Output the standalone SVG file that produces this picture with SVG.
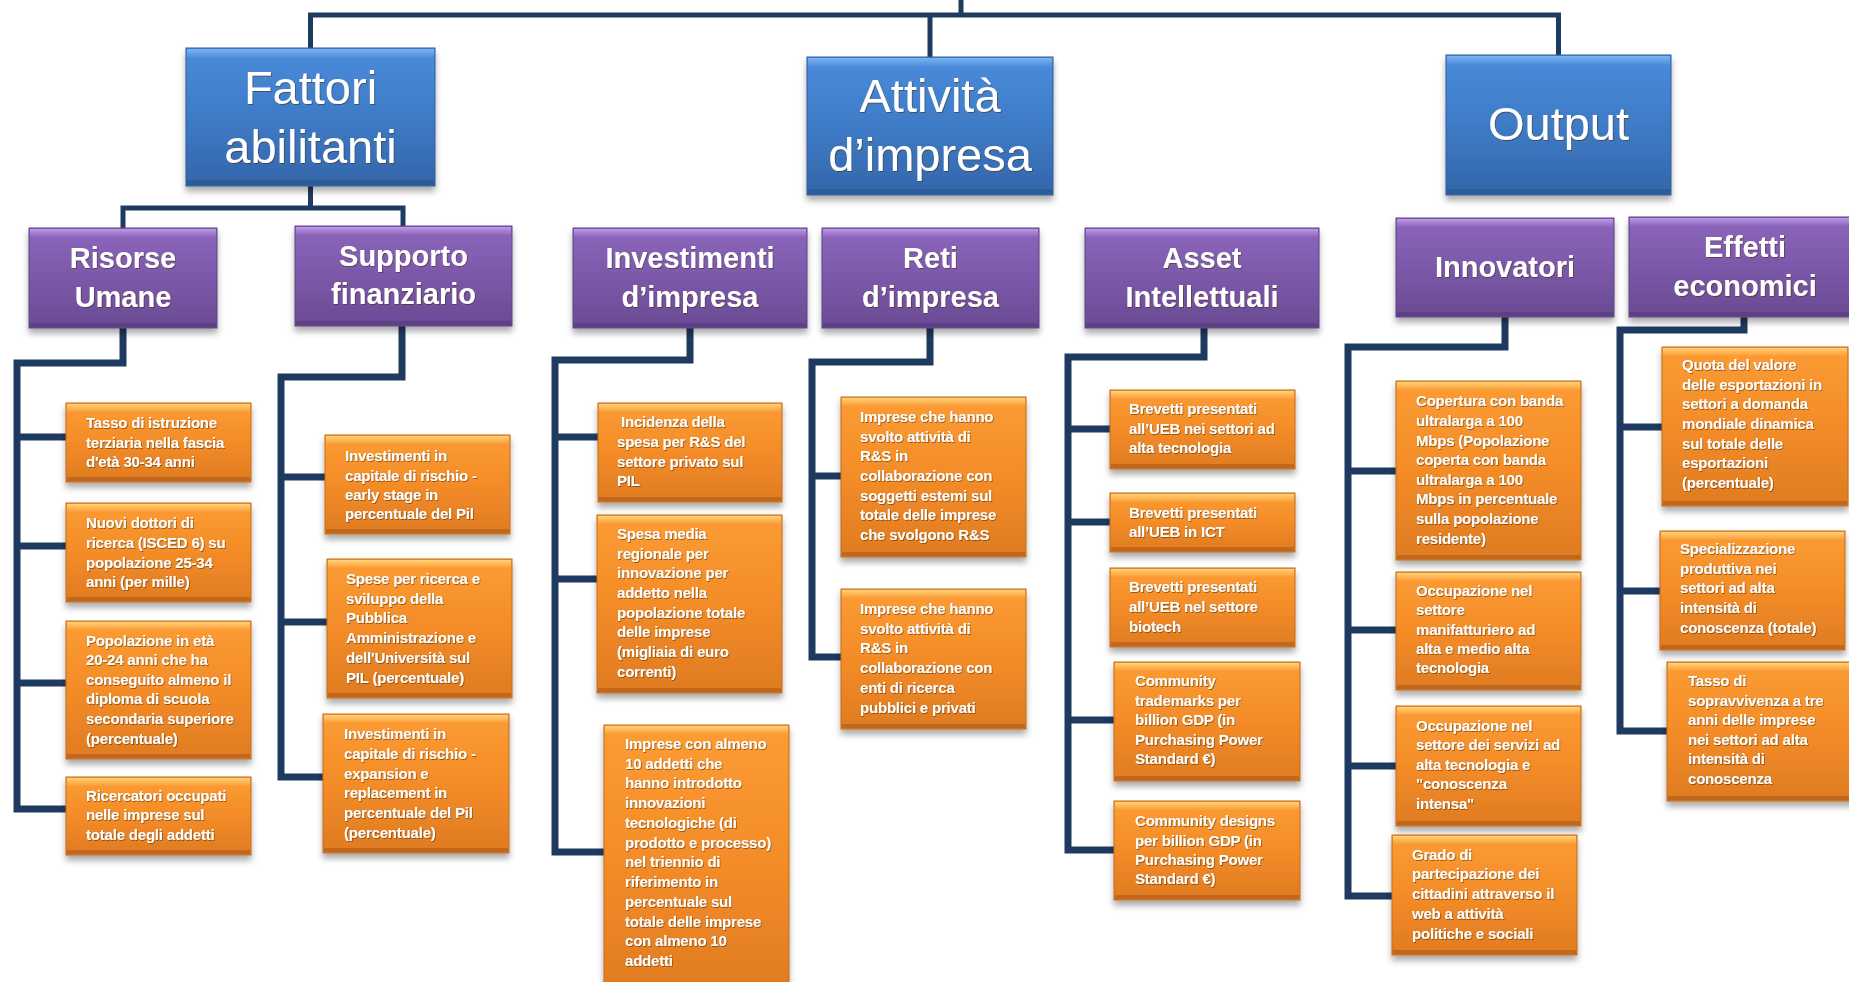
<svg xmlns="http://www.w3.org/2000/svg" width="1849" height="982" viewBox="0 0 1849 982">
<defs>
<style>
.c1{fill:none;stroke:#1F3A60;stroke-width:5;stroke-linejoin:miter}
.c2{fill:none;stroke:#1F3A60;stroke-width:7;stroke-linejoin:miter}
.bb{fill:url(#bg);stroke:#2E5E9B;stroke-width:1;filter:url(#sh)}
.bbt{fill:url(#bgt)}
.bbb{fill:#2C5A92;opacity:.8}
.pb{fill:url(#pg);stroke:#5E4285;stroke-width:1;filter:url(#sh)}
.pbt{fill:url(#pgt)}
.pbb{fill:#5B3F80;opacity:.8}
.ob{fill:url(#og);stroke:#C46A1C;stroke-width:1;filter:url(#sh)}
.obt{fill:url(#ogt)}
.obb{fill:#B9641D;opacity:.85}
text{fill:#FFFFFF;font-family:"Liberation Sans",Arial,sans-serif}
.t1{font-size:47px;text-anchor:middle;filter:url(#ts)}
.t2{font-size:29px;font-weight:bold;text-anchor:middle;filter:url(#ts)}
.t3{font-size:15px;font-weight:bold;letter-spacing:-0.2px;filter:url(#ts)}
</style>
<filter id="sh" x="-10%" y="-10%" width="120%" height="130%">
<feDropShadow dx="0" dy="5" stdDeviation="3" flood-color="#000" flood-opacity="0.33"/>
</filter>
<filter id="ts" x="-5%" y="-20%" width="110%" height="150%">
<feDropShadow dx="0.8" dy="1" stdDeviation="0.7" flood-color="#4a2500" flood-opacity="0.55"/>
</filter>
<linearGradient id="bg" x1="0" y1="0" x2="0" y2="1"><stop offset="0" stop-color="#4A8CDB"/><stop offset="0.5" stop-color="#3E7BC6"/><stop offset="1" stop-color="#3466AA"/></linearGradient>
<linearGradient id="bgt" x1="0" y1="0" x2="0" y2="1"><stop offset="0" stop-color="#7DB2F0"/><stop offset="1" stop-color="#4A8CDB"/></linearGradient>
<linearGradient id="pg" x1="0" y1="0" x2="0" y2="1"><stop offset="0" stop-color="#8C67BC"/><stop offset="0.5" stop-color="#7B58A9"/><stop offset="1" stop-color="#6A4B93"/></linearGradient>
<linearGradient id="pgt" x1="0" y1="0" x2="0" y2="1"><stop offset="0" stop-color="#BC98E6"/><stop offset="1" stop-color="#8C67BC"/></linearGradient>
<linearGradient id="og" x1="0" y1="0" x2="0" y2="1"><stop offset="0" stop-color="#FC9C34"/><stop offset="0.5" stop-color="#F38C28"/><stop offset="1" stop-color="#DF7B22"/></linearGradient>
<linearGradient id="ogt" x1="0" y1="0" x2="0" y2="1"><stop offset="0" stop-color="#FFD27A"/><stop offset="1" stop-color="#FC9C34"/></linearGradient>
</defs>
<rect width="1849" height="982" fill="#FFFFFF"/>

<g id="connectors">
<path class="c1" d="M310.5 48V15H1558.5V55M961 0V15M930 15V57"/>
<path class="c1" d="M310.5 186V208M123 228V208H403V226"/>
<path class="c2" d="M123 328V363H17V809H66M17 437H66M17 546H66M17 683H66"/>
<path class="c2" d="M402 326V377H281V777H323M281 477H325M281 622H327"/>
<path class="c2" d="M690 328V360H555V852H604M555 437H598M555 579H597"/>
<path class="c2" d="M930 328V362H812V657H841M812 476H841"/>
<path class="c2" d="M1204 328V357H1068V850H1114M1068 429H1110M1068 522H1110M1068 720H1114"/>
<path class="c2" d="M1505 317V347H1348V896H1392M1348 471H1396M1348 630H1396M1348 766H1396"/>
<path class="c2" d="M1744 317V330H1620V731H1667M1620 427H1662M1620 591H1660"/>
</g>

<g id="n_fattori">
<rect class="bb" x="186" y="48" width="249" height="138"/><rect class="bbt" x="187" y="49" width="247" height="9"/><rect class="bbb" x="187" y="180" width="247" height="5"/>
<text class="t1"><tspan x="310.5" y="104">Fattori</tspan><tspan x="310.5" y="163">abilitanti</tspan></text>
</g>
<g id="n_attivita">
<rect class="bb" x="807" y="57" width="246" height="138"/><rect class="bbt" x="808" y="58" width="244" height="9"/><rect class="bbb" x="808" y="189" width="244" height="5"/>
<text class="t1"><tspan x="930" y="112">Attività</tspan><tspan x="930" y="171">d’impresa</tspan></text>
</g>
<g id="n_output">
<rect class="bb" x="1446" y="55" width="225" height="140"/><rect class="bbt" x="1447" y="56" width="223" height="9"/><rect class="bbb" x="1447" y="189" width="223" height="5"/>
<text class="t1"><tspan x="1558.5" y="140">Output</tspan></text>
</g>

<g id="n_risorse">
<rect class="pb" x="29" y="228" width="188" height="100"/><rect class="pbt" x="30" y="229" width="186" height="8"/><rect class="pbb" x="30" y="323" width="186" height="4"/>
<text class="t2"><tspan x="123" y="268">Risorse</tspan><tspan x="123" y="307">Umane</tspan></text>
</g>
<g id="n_supporto">
<rect class="pb" x="295" y="226" width="217" height="100"/><rect class="pbt" x="296" y="227" width="215" height="8"/><rect class="pbb" x="296" y="321" width="215" height="4"/>
<text class="t2"><tspan x="403.5" y="266">Supporto</tspan><tspan x="403.5" y="304">finanziario</tspan></text>
</g>
<g id="n_investimenti">
<rect class="pb" x="573" y="228" width="234" height="100"/><rect class="pbt" x="574" y="229" width="232" height="8"/><rect class="pbb" x="574" y="323" width="232" height="4"/>
<text class="t2"><tspan x="690" y="268">Investimenti</tspan><tspan x="690" y="307">d’impresa</tspan></text>
</g>
<g id="n_reti">
<rect class="pb" x="822" y="228" width="217" height="100"/><rect class="pbt" x="823" y="229" width="215" height="8"/><rect class="pbb" x="823" y="323" width="215" height="4"/>
<text class="t2"><tspan x="930.5" y="268">Reti</tspan><tspan x="930.5" y="307">d’impresa</tspan></text>
</g>
<g id="n_asset">
<rect class="pb" x="1085" y="228" width="234" height="100"/><rect class="pbt" x="1086" y="229" width="232" height="8"/><rect class="pbb" x="1086" y="323" width="232" height="4"/>
<text class="t2"><tspan x="1202" y="268">Asset</tspan><tspan x="1202" y="307">Intellettuali</tspan></text>
</g>
<g id="n_innovatori">
<rect class="pb" x="1396" y="218" width="218" height="99"/><rect class="pbt" x="1397" y="219" width="216" height="8"/><rect class="pbb" x="1397" y="312" width="216" height="4"/>
<text class="t2"><tspan x="1505" y="277">Innovatori</tspan></text>
</g>
<g id="n_effetti">
<rect class="pb" x="1629" y="217" width="232" height="100"/><rect class="pbt" x="1630" y="218" width="230" height="8"/><rect class="pbb" x="1630" y="312" width="230" height="4"/>
<text class="t2"><tspan x="1745" y="257">Effetti</tspan><tspan x="1745" y="296">economici</tspan></text>
</g>

<g id="o1">
<rect class="ob" x="66" y="403" width="185" height="79"/><rect class="obt" x="67" y="404" width="183" height="8"/><rect class="obb" x="67" y="477" width="183" height="4"/>
<text class="t3"><tspan x="86" y="428">Tasso di istruzione</tspan><tspan x="86" y="448">terziaria nella fascia</tspan><tspan x="86" y="467">d'età 30-34 anni</tspan></text>
</g>
<g id="o2">
<rect class="ob" x="66" y="503" width="185" height="99"/><rect class="obt" x="67" y="504" width="183" height="8"/><rect class="obb" x="67" y="597" width="183" height="4"/>
<text class="t3"><tspan x="86" y="528">Nuovi dottori di</tspan><tspan x="86" y="548">ricerca (ISCED 6) su</tspan><tspan x="86" y="568">popolazione 25-34</tspan><tspan x="86" y="587">anni (per mille)</tspan></text>
</g>
<g id="o3">
<rect class="ob" x="66" y="621" width="185" height="138"/><rect class="obt" x="67" y="622" width="183" height="8"/><rect class="obb" x="67" y="754" width="183" height="4"/>
<text class="t3"><tspan x="86" y="646">Popolazione in età</tspan><tspan x="86" y="665">20-24 anni che ha</tspan><tspan x="86" y="685">conseguito almeno il</tspan><tspan x="86" y="704">diploma di scuola</tspan><tspan x="86" y="724">secondaria superiore</tspan><tspan x="86" y="744">(percentuale)</tspan></text>
</g>
<g id="o4">
<rect class="ob" x="66" y="777" width="185" height="78"/><rect class="obt" x="67" y="778" width="183" height="8"/><rect class="obb" x="67" y="850" width="183" height="4"/>
<text class="t3"><tspan x="86" y="801">Ricercatori occupati</tspan><tspan x="86" y="820">nelle imprese sul</tspan><tspan x="86" y="840">totale degli addetti</tspan></text>
</g>

<g id="o5">
<rect class="ob" x="325" y="435" width="185" height="99"/><rect class="obt" x="326" y="436" width="183" height="8"/><rect class="obb" x="326" y="529" width="183" height="4"/>
<text class="t3"><tspan x="345" y="461">Investimenti in</tspan><tspan x="345" y="481">capitale di rischio -</tspan><tspan x="345" y="500">early stage in</tspan><tspan x="345" y="519">percentuale del Pil</tspan></text>
</g>
<g id="o6">
<rect class="ob" x="327" y="559" width="185" height="139"/><rect class="obt" x="328" y="560" width="183" height="8"/><rect class="obb" x="328" y="693" width="183" height="4"/>
<text class="t3"><tspan x="346" y="584">Spese per ricerca e</tspan><tspan x="346" y="604">sviluppo della</tspan><tspan x="346" y="623">Pubblica</tspan><tspan x="346" y="643">Amministrazione e</tspan><tspan x="346" y="663">dell'Università sul</tspan><tspan x="346" y="683">PIL (percentuale)</tspan></text>
</g>
<g id="o7">
<rect class="ob" x="323" y="714" width="186" height="139"/><rect class="obt" x="324" y="715" width="184" height="8"/><rect class="obb" x="324" y="848" width="184" height="4"/>
<text class="t3"><tspan x="344" y="739">Investimenti in</tspan><tspan x="344" y="759">capitale di rischio -</tspan><tspan x="344" y="779">expansion e</tspan><tspan x="344" y="798">replacement in</tspan><tspan x="344" y="818">percentuale del Pil</tspan><tspan x="344" y="838">(percentuale)</tspan></text>
</g>

<g id="o8">
<rect class="ob" x="598" y="403" width="184" height="99"/><rect class="obt" x="599" y="404" width="182" height="8"/><rect class="obb" x="599" y="497" width="182" height="4"/>
<text class="t3"><tspan x="621" y="427">Incidenza della</tspan><tspan x="617" y="447">spesa per R&amp;S del</tspan><tspan x="617" y="467">settore privato sul</tspan><tspan x="617" y="486">PIL</tspan></text>
</g>
<g id="o9">
<rect class="ob" x="597" y="515" width="185" height="178"/><rect class="obt" x="598" y="516" width="183" height="8"/><rect class="obb" x="598" y="688" width="183" height="4"/>
<text class="t3"><tspan x="617" y="539">Spesa media</tspan><tspan x="617" y="559">regionale per</tspan><tspan x="617" y="578">innovazione per</tspan><tspan x="617" y="598">addetto nella</tspan><tspan x="617" y="618">popolazione totale</tspan><tspan x="617" y="637">delle imprese</tspan><tspan x="617" y="657">(migliaia di euro</tspan><tspan x="617" y="677">correnti)</tspan></text>
</g>
<g id="o10">
<rect class="ob" x="604" y="725" width="185" height="275"/><rect class="obt" x="605" y="726" width="183" height="8"/>
<text class="t3"><tspan x="625" y="749">Imprese con almeno</tspan><tspan x="625" y="769">10 addetti che</tspan><tspan x="625" y="788">hanno introdotto</tspan><tspan x="625" y="808">innovazioni</tspan><tspan x="625" y="828">tecnologiche (di</tspan><tspan x="625" y="848">prodotto e processo)</tspan><tspan x="625" y="867">nel triennio di</tspan><tspan x="625" y="887">riferimento in</tspan><tspan x="625" y="907">percentuale sul</tspan><tspan x="625" y="927">totale delle imprese</tspan><tspan x="625" y="946">con almeno 10</tspan><tspan x="625" y="966">addetti</tspan></text>
</g>

<g id="o11">
<rect class="ob" x="841" y="397" width="185" height="160"/><rect class="obt" x="842" y="398" width="183" height="8"/><rect class="obb" x="842" y="552" width="183" height="4"/>
<text class="t3"><tspan x="860" y="422">Imprese che hanno</tspan><tspan x="860" y="442">svolto attività di</tspan><tspan x="860" y="461">R&amp;S in</tspan><tspan x="860" y="481">collaborazione con</tspan><tspan x="860" y="501">soggetti estemi sul</tspan><tspan x="860" y="520">totale delle imprese</tspan><tspan x="860" y="540">che svolgono R&amp;S</tspan></text>
</g>
<g id="o12">
<rect class="ob" x="841" y="589" width="185" height="140"/><rect class="obt" x="842" y="590" width="183" height="8"/><rect class="obb" x="842" y="724" width="183" height="4"/>
<text class="t3"><tspan x="860" y="614">Imprese che hanno</tspan><tspan x="860" y="634">svolto attività di</tspan><tspan x="860" y="653">R&amp;S in</tspan><tspan x="860" y="673">collaborazione con</tspan><tspan x="860" y="693">enti di ricerca</tspan><tspan x="860" y="713">pubblici e privati</tspan></text>
</g>

<g id="o13">
<rect class="ob" x="1110" y="390" width="185" height="79"/><rect class="obt" x="1111" y="391" width="183" height="8"/><rect class="obb" x="1111" y="464" width="183" height="4"/>
<text class="t3"><tspan x="1129" y="414">Brevetti presentati</tspan><tspan x="1129" y="434">all’UEB nei settori ad</tspan><tspan x="1129" y="453">alta tecnologia</tspan></text>
</g>
<g id="o14">
<rect class="ob" x="1110" y="493" width="185" height="59"/><rect class="obt" x="1111" y="494" width="183" height="8"/><rect class="obb" x="1111" y="547" width="183" height="4"/>
<text class="t3"><tspan x="1129" y="518">Brevetti presentati</tspan><tspan x="1129" y="537">all’UEB in ICT</tspan></text>
</g>
<g id="o15">
<rect class="ob" x="1110" y="568" width="185" height="79"/><rect class="obt" x="1111" y="569" width="183" height="8"/><rect class="obb" x="1111" y="642" width="183" height="4"/>
<text class="t3"><tspan x="1129" y="592">Brevetti presentati</tspan><tspan x="1129" y="612">all’UEB nel settore</tspan><tspan x="1129" y="632">biotech</tspan></text>
</g>
<g id="o16">
<rect class="ob" x="1114" y="662" width="186" height="119"/><rect class="obt" x="1115" y="663" width="184" height="8"/><rect class="obb" x="1115" y="776" width="184" height="4"/>
<text class="t3"><tspan x="1135" y="686">Community</tspan><tspan x="1135" y="706">trademarks per</tspan><tspan x="1135" y="725">billion GDP (in</tspan><tspan x="1135" y="745">Purchasing Power</tspan><tspan x="1135" y="764">Standard €)</tspan></text>
</g>
<g id="o17">
<rect class="ob" x="1114" y="801" width="186" height="99"/><rect class="obt" x="1115" y="802" width="184" height="8"/><rect class="obb" x="1115" y="895" width="184" height="4"/>
<text class="t3"><tspan x="1135" y="826">Community designs</tspan><tspan x="1135" y="846">per billion GDP (in</tspan><tspan x="1135" y="865">Purchasing Power</tspan><tspan x="1135" y="884">Standard €)</tspan></text>
</g>

<g id="o18">
<rect class="ob" x="1396" y="381" width="185" height="179"/><rect class="obt" x="1397" y="382" width="183" height="8"/><rect class="obb" x="1397" y="555" width="183" height="4"/>
<text class="t3"><tspan x="1416" y="406">Copertura con banda</tspan><tspan x="1416" y="426">ultralarga a 100</tspan><tspan x="1416" y="446">Mbps (Popolazione</tspan><tspan x="1416" y="465">coperta con banda</tspan><tspan x="1416" y="485">ultralarga a 100</tspan><tspan x="1416" y="504">Mbps in percentuale</tspan><tspan x="1416" y="524">sulla popolazione</tspan><tspan x="1416" y="544">residente)</tspan></text>
</g>
<g id="o19">
<rect class="ob" x="1396" y="572" width="185" height="118"/><rect class="obt" x="1397" y="573" width="183" height="8"/><rect class="obb" x="1397" y="685" width="183" height="4"/>
<text class="t3"><tspan x="1416" y="596">Occupazione nel</tspan><tspan x="1416" y="615">settore</tspan><tspan x="1416" y="635">manifatturiero ad</tspan><tspan x="1416" y="654">alta e medio alta</tspan><tspan x="1416" y="673">tecnologia</tspan></text>
</g>
<g id="o20">
<rect class="ob" x="1396" y="706" width="185" height="120"/><rect class="obt" x="1397" y="707" width="183" height="8"/><rect class="obb" x="1397" y="821" width="183" height="4"/>
<text class="t3"><tspan x="1416" y="731">Occupazione nel</tspan><tspan x="1416" y="750">settore dei servizi ad</tspan><tspan x="1416" y="770">alta tecnologia e</tspan><tspan x="1416" y="789">"conoscenza</tspan><tspan x="1416" y="809">intensa"</tspan></text>
</g>
<g id="o21">
<rect class="ob" x="1392" y="835" width="185" height="120"/><rect class="obt" x="1393" y="836" width="183" height="8"/><rect class="obb" x="1393" y="950" width="183" height="4"/>
<text class="t3"><tspan x="1412" y="860">Grado di</tspan><tspan x="1412" y="879">partecipazione dei</tspan><tspan x="1412" y="899">cittadini attraverso il</tspan><tspan x="1412" y="919">web a attività</tspan><tspan x="1412" y="939">politiche e sociali</tspan></text>
</g>

<g id="o22">
<rect class="ob" x="1662" y="347" width="186" height="159"/><rect class="obt" x="1663" y="348" width="184" height="8"/><rect class="obb" x="1663" y="501" width="184" height="4"/>
<text class="t3"><tspan x="1682" y="370">Quota del valore</tspan><tspan x="1682" y="390">delle esportazioni in</tspan><tspan x="1682" y="409">settori a domanda</tspan><tspan x="1682" y="429">mondiale dinamica</tspan><tspan x="1682" y="449">sul totale delle</tspan><tspan x="1682" y="468">esportazioni</tspan><tspan x="1682" y="488">(percentuale)</tspan></text>
</g>
<g id="o23">
<rect class="ob" x="1660" y="531" width="185" height="119"/><rect class="obt" x="1661" y="532" width="183" height="8"/><rect class="obb" x="1661" y="645" width="183" height="4"/>
<text class="t3"><tspan x="1680" y="554">Specializzazione</tspan><tspan x="1680" y="574">produttiva nei</tspan><tspan x="1680" y="593">settori ad alta</tspan><tspan x="1680" y="613">intensità di</tspan><tspan x="1680" y="633">conoscenza (totale)</tspan></text>
</g>
<g id="o24">
<rect class="ob" x="1667" y="662" width="190" height="139"/><rect class="obt" x="1668" y="663" width="188" height="8"/><rect class="obb" x="1668" y="796" width="188" height="4"/>
<text class="t3"><tspan x="1688" y="686">Tasso di</tspan><tspan x="1688" y="706">sopravvivenza a tre</tspan><tspan x="1688" y="725">anni delle imprese</tspan><tspan x="1688" y="745">nei settori ad alta</tspan><tspan x="1688" y="764">intensità di</tspan><tspan x="1688" y="784">conoscenza</tspan></text>
</g>
</svg>
